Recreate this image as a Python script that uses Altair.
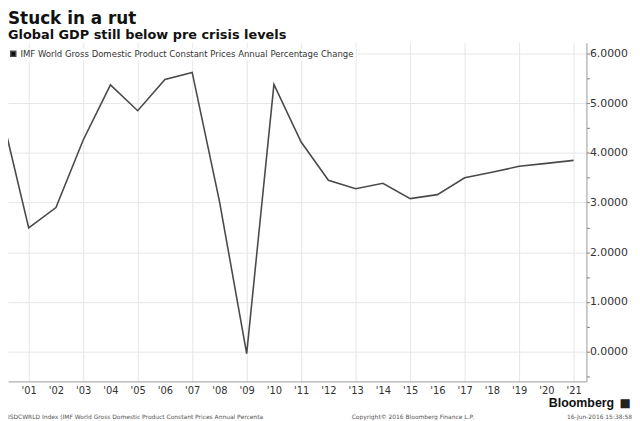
import altair as alt
import pandas as pd

# ---- data ----
years = [2000, 2001, 2002, 2003, 2004, 2005, 2006, 2007, 2008, 2009, 2010,
         2011, 2012, 2013, 2014, 2015, 2016, 2017, 2018, 2019, 2020, 2021]
gdp_growth = [4.80, 2.49, 2.90, 4.26, 5.37, 4.85, 5.48, 5.62, 3.03, -0.04, 5.38,
              4.22, 3.45, 3.28, 3.39, 3.08, 3.16, 3.50, 3.61, 3.73, 3.79, 3.85]
series_name = "IMF World Gross Domestic Product Constant Prices Annual Percentage Change"
x_tick_years = [2001, 2002, 2003, 2004, 2005, 2006, 2007, 2008, 2009, 2010, 2011,
                2012, 2013, 2014, 2015, 2016, 2017, 2018, 2019, 2020, 2021]
y_tick_values = [-0.5, 0.0, 0.5, 1.0, 1.5, 2.0, 2.5, 3.0, 3.5, 4.0, 4.5, 5.0, 5.5, 6.0]

title_text = "Stuck in a rut"
subtitle_text = "Global GDP still below pre crisis levels"
brand_text = "Bloomberg"
footer_left = "ISDCWRLD Index (IMF World Gross Domestic Product Constant Prices Annual Percenta"
footer_mid = "Copyright\u00a9 2016 Bloomberg Finance L.P."
footer_right = "16-Jun-2016 15:38:58"

FONT = "DejaVu Sans"
W, H = 584, 342

df = pd.DataFrame({"year": years, "value": gdp_growth, "series": series_name})

line = alt.Chart(df).mark_line(strokeWidth=1.6, clip=True).encode(
    x=alt.X(
        "year:Q",
        scale=alt.Scale(domain=[2000.24, 2021.47], nice=False, zero=False),
        axis=alt.Axis(
            values=x_tick_years,
            labelExpr="\"'\" + substring(toString(datum.value), 2, 4)",
            title=None,
            grid=True,
            gridColor="#e6e6e6",
            gridOpacity={"condition": {"test": "datum.value % 2 == 1", "value": 1}, "value": 0},
            ticks=False,
            domainColor="#9a9a9a",
            labelFont=FONT,
            labelFontSize=10,
            labelColor="#333333",
            labelPadding=4,
            labelFlush=False,
        ),
    ),
    y=alt.Y(
        "value:Q",
        scale=alt.Scale(domain=[-0.6, 6.22], nice=False, zero=False),
        axis=alt.Axis(
            orient="right",
            values=y_tick_values,
            labelExpr="datum.value % 1 == 0 ? format(datum.value, '.4f') : ''",
            title=None,
            grid=True,
            gridColor="#e6e6e6",
            gridOpacity={"condition": {"test": "datum.value % 1 == 0", "value": 1}, "value": 0},
            ticks=True,
            tickSize=3,
            tickColor="#777777",
            domainColor="#9a9a9a",
            labelFont=FONT,
            labelFontSize=11,
            labelColor="#333333",
            labelPadding=0,
            labelFlush=False,
        ),
    ),
    color=alt.Color(
        "series:N",
        scale=alt.Scale(range=["#4a4a4a"]),
        legend=alt.Legend(
            title=None,
            orient="none",
            legendX=0,
            legendY=6,
            padding=1,
            fillColor="white",
            symbolType="square",
            symbolFillColor="#111111",
            symbolStrokeColor="#111111",
            symbolSize=26,
            labelOffset=3,
            labelFont=FONT,
            labelFontSize=8.6,
            labelColor="#333333",
            labelLimit=600,
        ),
    ),
)


def txt(value, x, y, size, align="left", weight="normal", color="#555555", font=FONT):
    return alt.Chart(pd.DataFrame({"t": [value]})).mark_text(
        align=align, baseline="middle", fontSize=size, fontWeight=weight,
        color=color, font=font,
    ).encode(text="t:N", x=alt.value(x), y=alt.value(y))


chart = alt.layer(
    line,
    txt(brand_text, 612, 364, 12.5, align="right", weight="bold", color="#111111", font="Liberation Sans"),
    txt("\u25a0", 623, 364, 12, align="center", color="#222222"),
    txt(footer_left, 0, 378, 6),
    txt(footer_mid, 347, 378, 6),
    txt(footer_right, 630, 378, 6, align="right"),
).properties(
    width=W,
    height=H,
    title=alt.TitleParams(
        text=title_text,
        subtitle=subtitle_text,
        anchor="start",
        font=FONT,
        fontSize=17,
        fontWeight="bold",
        color="#111111",
        subtitleFont=FONT,
        subtitleFontSize=13,
        subtitleFontWeight="bold",
        subtitleColor="#111111",
        subtitlePadding=1,
        offset=0,
    ),
    background="white",
    padding=0,
).configure_view(stroke=None)

chart.save("out.html", embed_options={"renderer": "svg", "actions": False})
